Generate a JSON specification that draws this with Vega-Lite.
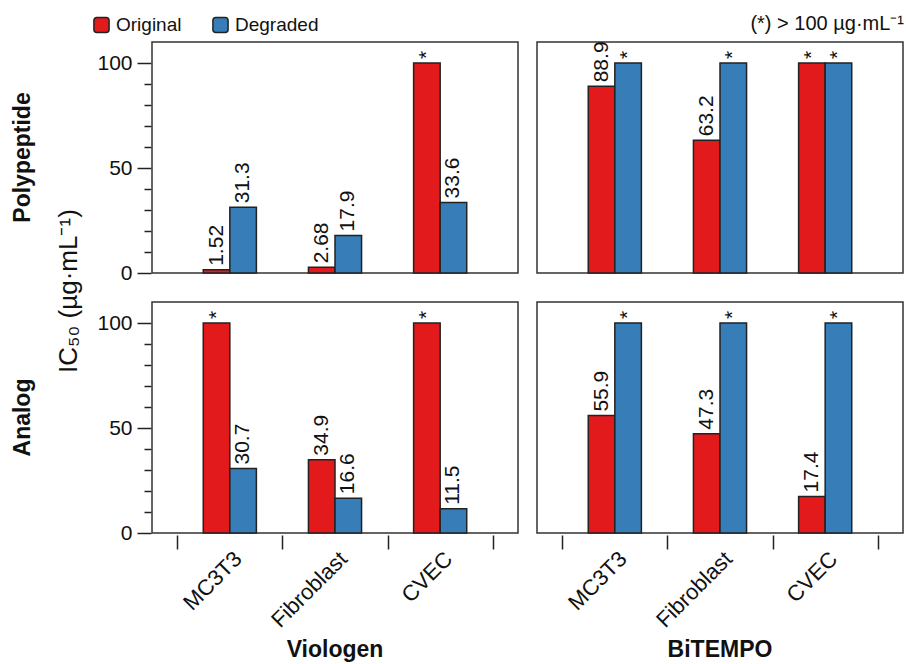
{
  "$schema": "https://vega.github.io/schema/vega-lite/v6.json",
  "autosize": {"type": "pad"},
  "padding": {"left": 11, "top": 14, "right": 0, "bottom": 0},
  "title": {"text": "IC₅₀ (µg·mL⁻¹)", "orient": "left", "anchor": "middle", "offset": -70, "dx": 47, "fontSize": 26, "fontWeight": "normal", "font": "Liberation Sans", "color": "#111"},
  "data": {"values": [
    {"compound": "Polypeptide", "material": "Viologen", "cell": "MC3T3", "state": "Original", "value": 1.52, "label": "1.52"},
    {"compound": "Polypeptide", "material": "Viologen", "cell": "MC3T3", "state": "Degraded", "value": 31.3, "label": "31.3"},
    {"compound": "Polypeptide", "material": "Viologen", "cell": "Fibroblast", "state": "Original", "value": 2.68, "label": "2.68"},
    {"compound": "Polypeptide", "material": "Viologen", "cell": "Fibroblast", "state": "Degraded", "value": 17.9, "label": "17.9"},
    {"compound": "Polypeptide", "material": "Viologen", "cell": "CVEC", "state": "Original", "value": 100, "label": "*"},
    {"compound": "Polypeptide", "material": "Viologen", "cell": "CVEC", "state": "Degraded", "value": 33.6, "label": "33.6"},
    {"compound": "Polypeptide", "material": "BiTEMPO", "cell": "MC3T3", "state": "Original", "value": 88.9, "label": "88.9"},
    {"compound": "Polypeptide", "material": "BiTEMPO", "cell": "MC3T3", "state": "Degraded", "value": 100, "label": "*"},
    {"compound": "Polypeptide", "material": "BiTEMPO", "cell": "Fibroblast", "state": "Original", "value": 63.2, "label": "63.2"},
    {"compound": "Polypeptide", "material": "BiTEMPO", "cell": "Fibroblast", "state": "Degraded", "value": 100, "label": "*"},
    {"compound": "Polypeptide", "material": "BiTEMPO", "cell": "CVEC", "state": "Original", "value": 100, "label": "*"},
    {"compound": "Polypeptide", "material": "BiTEMPO", "cell": "CVEC", "state": "Degraded", "value": 100, "label": "*"},
    {"compound": "Analog", "material": "Viologen", "cell": "MC3T3", "state": "Original", "value": 100, "label": "*"},
    {"compound": "Analog", "material": "Viologen", "cell": "MC3T3", "state": "Degraded", "value": 30.7, "label": "30.7"},
    {"compound": "Analog", "material": "Viologen", "cell": "Fibroblast", "state": "Original", "value": 34.9, "label": "34.9"},
    {"compound": "Analog", "material": "Viologen", "cell": "Fibroblast", "state": "Degraded", "value": 16.6, "label": "16.6"},
    {"compound": "Analog", "material": "Viologen", "cell": "CVEC", "state": "Original", "value": 100, "label": "*"},
    {"compound": "Analog", "material": "Viologen", "cell": "CVEC", "state": "Degraded", "value": 11.5, "label": "11.5"},
    {"compound": "Analog", "material": "BiTEMPO", "cell": "MC3T3", "state": "Original", "value": 55.9, "label": "55.9"},
    {"compound": "Analog", "material": "BiTEMPO", "cell": "MC3T3", "state": "Degraded", "value": 100, "label": "*"},
    {"compound": "Analog", "material": "BiTEMPO", "cell": "Fibroblast", "state": "Original", "value": 47.3, "label": "47.3"},
    {"compound": "Analog", "material": "BiTEMPO", "cell": "Fibroblast", "state": "Degraded", "value": 100, "label": "*"},
    {"compound": "Analog", "material": "BiTEMPO", "cell": "CVEC", "state": "Original", "value": 17.4, "label": "17.4"},
    {"compound": "Analog", "material": "BiTEMPO", "cell": "CVEC", "state": "Degraded", "value": 100, "label": "*"}
  ]},
  "facet": {
    "row": {"field": "compound", "type": "nominal", "sort": ["Polypeptide", "Analog"], "title": null,
      "header": {"labelOrient": "left", "labelAngle": -90, "labelFontSize": 23, "labelFontWeight": "bold", "labelPadding": 51, "labelColor": "#111"}},
    "column": {"field": "material", "type": "nominal", "sort": ["Viologen", "BiTEMPO"], "title": "(*) > 100 µg·mL⁻¹",
      "header": {"labelOrient": "bottom", "titleOrient": "top", "titleAnchor": "end", "titleFontSize": 20, "titleFontWeight": "normal", "titlePadding": -4, "titleColor": "#111", "labelFontSize": 23, "labelFontWeight": "bold", "labelPadding": 8, "labelColor": "#111"}}
  },
  "spacing": {"row": 26, "column": 17},
  "spec": {
    "width": 366,
    "height": 231,
    "encoding": {
      "x": {"field": "cell", "type": "nominal", "sort": ["MC3T3", "Fibroblast", "CVEC"],
        "scale": {"paddingInner": 0, "paddingOuter": 0.24},
        "axis": {"title": null, "labelAngle": -45, "labelAlign": "right", "labelBaseline": "middle", "tickBand": "extent", "tickSize": 14, "tickWidth": 1.5, "tickColor": "#222", "domain": false, "labelPadding": 6, "labelOffset": 8, "labelFontSize": 22, "labelColor": "#111"}},
      "xOffset": {"field": "state", "type": "nominal", "sort": ["Original", "Degraded"], "scale": {"paddingInner": 0, "paddingOuter": 0.98}},
      "y": {"field": "value", "type": "quantitative", "scale": {"domain": [0, 110], "nice": false},
        "axis": {"title": null, "values": [0, 10, 20, 30, 40, 50, 60, 70, 80, 90, 100], "labelExpr": "datum.value % 50 === 0 ? datum.label : ''", "tickSize": {"condition": {"test": "datum.value % 50 === 0", "value": 14}, "value": 7}, "tickWidth": 1.5, "tickColor": "#222", "domain": false, "grid": false, "labelPadding": 5, "labelFontSize": 21, "labelColor": "#111"}}
    },
    "layer": [
      {"mark": {"type": "bar", "stroke": "#222", "strokeWidth": 1.5},
       "encoding": {"color": {"field": "state", "type": "nominal", "sort": ["Original", "Degraded"], "scale": {"domain": ["Original", "Degraded"], "range": ["#e31a1c", "#377eb8"]},
         "legend": {"title": null, "orient": "none", "legendX": -60, "legendY": -27, "direction": "horizontal", "symbolType": "M-1,-0.6Q-1,-1,-0.6,-1L0.6,-1Q1,-1,1,-0.6L1,0.6Q1,1,0.6,1L-0.6,1Q-1,1,-1,0.6Z", "symbolSize": 230, "symbolStrokeWidth": 1.5, "symbolStrokeColor": "#222", "symbolOpacity": 1, "labelFontSize": 19, "labelColor": "#111", "columnPadding": 27, "labelOffset": 5}}}},
      {"mark": {"type": "text", "angle": 270, "align": "left", "baseline": "middle", "dx": 4, "fontSize": 21, "color": "#111"},
       "encoding": {"text": {"field": "label"}}}
    ]
  },
  "config": {
    "font": "Liberation Sans",
    "view": {"stroke": "#333", "strokeWidth": 1.5}
  }
}
